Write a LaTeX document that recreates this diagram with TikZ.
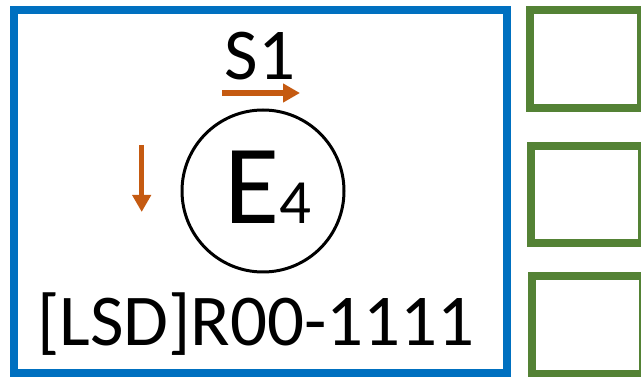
\documentclass[tikz,border=0pt]{standalone}
\usepackage{fontspec}
\setmainfont{Carlito}
\usetikzlibrary{positioning,arrows.meta}
\definecolor{frameblue}{HTML}{0070C0}
\definecolor{slotgreen}{HTML}{548235}
\definecolor{dirorange}{HTML}{C55A11}

\begin{document}
\begin{tikzpicture}[x=1pt, y=-1pt,
				card/.style={rectangle, draw=frameblue, line width=8pt, minimum width=492.7pt, minimum height=362.5pt},
				slot/.style={rectangle, draw=slotgreen, line width=8pt, minimum width=111pt, minimum height=97.5pt},
				ring/.style={circle, draw=black, line width=3pt, minimum size=162pt, inner sep=0pt},
				label/.style={font=\fontsize{73}{80}\selectfont, inner sep=0pt, anchor=base},
				dir/.style={draw=dirorange, line width=5.5pt, -{Triangle[length=17pt,width=18pt]}}
			]
			\useasboundingbox (0,0) rectangle (641,377);
			\node[card] (card) at (260.35,191.75) {};
			\node[slot] (slot1) at (585.5,59.25) {};
			\node[slot] (slot2) at (586.8,194.6) {};
			\node[slot] (slot3) at (587.8,325) {};
			\node[ring] (entity) at (263,191) {};
			\node[inner sep=0pt, anchor=base] (entlbl) at (268,224) {{\fontsize{113}{120}\selectfont E}{\fontsize{63}{70}\selectfont 4}};
			\node[label] (sname) at (260,80) {S1};
			\node[label] (code) at (256,345) {[LSD]R00-1111};
			\coordinate (hfrom) at (222,93);
			\coordinate (hto) at (300,93);
			\coordinate (vfrom) at (141.7,145);
			\coordinate (vto) at (141.7,212);
			\draw[dir] (hfrom) -- (hto);
			\draw[dir] (vfrom) -- (vto);
			\end{tikzpicture}
\end{document}
